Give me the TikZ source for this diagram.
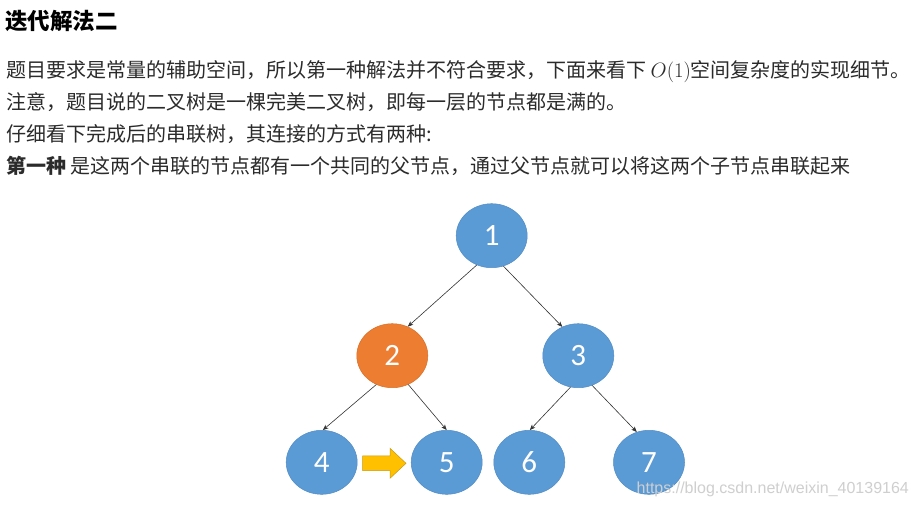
\documentclass[tikz,border=0pt]{standalone}
\usepackage[no-math]{fontspec}
\setmainfont{Noto Sans CJK SC}
\newfontfamily\cjk{Noto Sans CJK SC}
\newfontfamily\calfont{Carlito}
\newfontfamily\wmfont{Liberation Sans}
\usetikzlibrary{arrows.meta,shapes.geometric}
\definecolor{nblue}{HTML}{5B9BD5}
\definecolor{nblueedge}{HTML}{4F8BC4}
\definecolor{norange}{HTML}{ED7D31}
\definecolor{norangeedge}{HTML}{D76E26}
\definecolor{ayellow}{HTML}{FFC000}
\definecolor{ayellowedge}{HTML}{C99A10}
\definecolor{txt}{HTML}{2B2B2B}
\definecolor{wmgray}{HTML}{CFCFCF}
\tikzset{
  treenode/.style={ellipse, fill=nblue, draw=nblueedge, line width=0.5pt,
    minimum width=71pt, minimum height=64pt, inner sep=0pt,
    text=white, font=\calfont\fontsize{31}{31}\selectfont},
  hinode/.style={treenode, fill=norange, draw=norangeedge},
  link/.style={draw=black!80, line width=0.6pt, -{Stealth[length=5.5pt,width=4.5pt,inset=1.5pt]}},
  bodyline/.style={anchor=base west, inner sep=0pt, text=txt, font=\cjk\fontsize{20}{24}\selectfont},
  titleline/.style={anchor=base west, inner sep=0pt, text=black, font=\cjk\bfseries\fontsize{22.5}{26}\selectfont},
}
\begin{document}
\begin{tikzpicture}[x=1pt,y=-1pt]
\useasboundingbox (0,0) rectangle (918,507);
\fill[white] (0,0) rectangle (918,507);

% text
\node[titleline] (title) at (5,29.5) {迭代解法二};
\node[bodyline] (l1) at (6,77.5) {题目要求是常量的辅助空间，所以第一种解法并不符合要求，下面来看下 {\fontsize{21.5}{24}\selectfont$O(1)$}空间复杂度的实现细节。};
\node[bodyline] (l2) at (6,109.5) {注意，题目说的二叉树是一棵完美二叉树，即每一层的节点都是满的。};
\node[bodyline] (l3) at (6,141.5) {仔细看下完成后的串联树，其连接的方式有两种:};
\node[bodyline] (l4) at (6,173.5) {\textbf{第一种} 是这两个串联的节点都有一个共同的父节点，通过父节点就可以将这两个子节点串联起来};

% tree
\node[treenode] (n1) at (491.7,235.7) {1};
\node[hinode]   (n2) at (392.3,355.7) {2};
\node[treenode] (n3) at (578.3,355.7) {3};
\node[treenode] (n4) at (321.7,462.3) {4};
\node[treenode] (n5) at (446.7,462.3) {5};
\node[treenode] (n6) at (529.3,462.3) {6};
\node[treenode] (n7) at (649,462.3) {7};

\draw[link] (n1.243.7) -- (n2.62.5);
\draw[link] (n1.291.6) -- (n3.119.8);
\draw[link] (n2.241.3) -- (n4.88);
\draw[link] (n2.299) -- (n5.90);
\draw[link] (n3.256.9) -- (n6.89);
\draw[link] (n3.295.4) -- (n7.112.8);

% yellow block arrow
\filldraw[fill=ayellow, draw=ayellowedge, line width=0.5pt, line join=miter]
  (362.7,455.9) -- (390,455.9) -- (390,448.3) -- (406,463.3) -- (390,478.3)
  -- (390,470.7) -- (362.7,470.7) -- cycle;

% watermark
\node[anchor=base west, inner sep=0pt, text=wmgray, font=\wmfont\fontsize{16}{16}\selectfont]
  (wm) at (636.5,493) {https://blog.csdn.net/weixin\_40139164};
\end{tikzpicture}
\end{document}
